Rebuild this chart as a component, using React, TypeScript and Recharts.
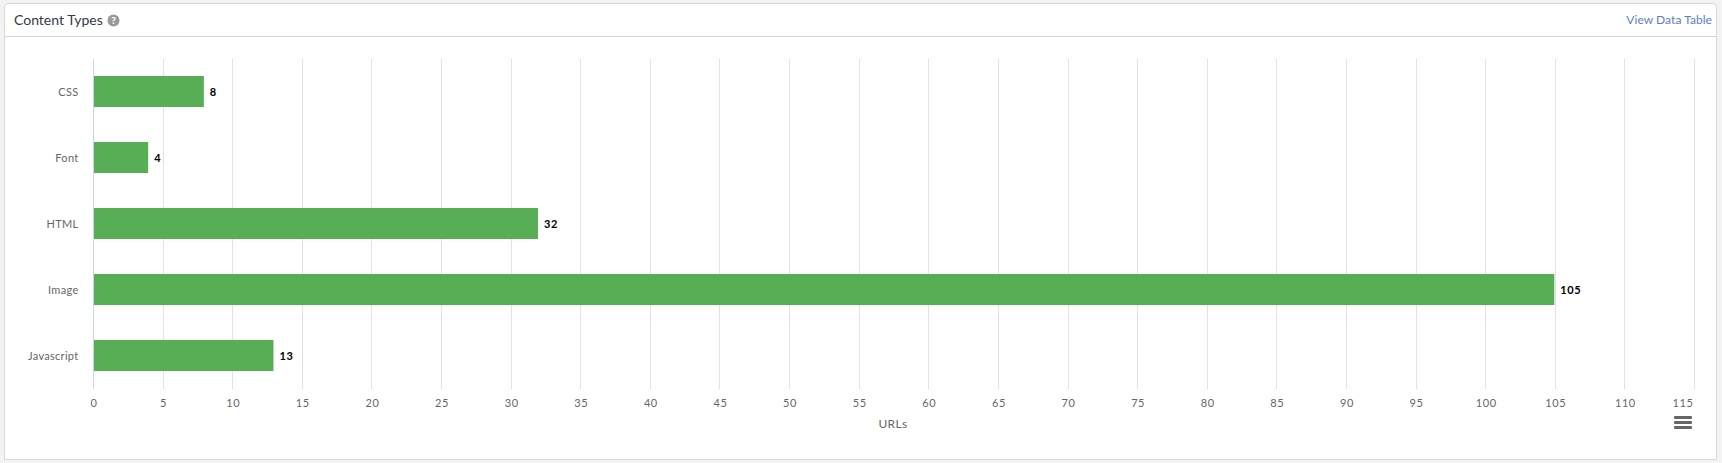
import { Bar, BarChart, CartesianGrid, LabelList, Rectangle, XAxis, YAxis } from "recharts";

const FONT = "Lato, sans-serif";

const categories = ["CSS", "Font", "HTML", "Image", "Javascript"];
const urlCounts = [8, 4, 32, 105, 13];
const xTicks = [0, 5, 10, 15, 20, 25, 30, 35, 40, 45, 50, 55, 60, 65, 70, 75, 80, 85, 90, 95, 100, 105, 110, 115];

const chartData = categories.map((name, index) => ({ name, urls: urlCounts[index] }));

function XTick({ x, y, payload }: any) {
  // the last label is pulled back inside the plot, as in the original
  const isLast = payload.value === xTicks[xTicks.length - 1];
  return (
    <text
      x={isLast ? x - 1 : x + 0.5}
      y={y}
      dy={4}
      textAnchor={isLast ? "end" : "middle"}
      fontFamily={FONT}
      fontSize={11}
      letterSpacing={0.6}
      fill="#666666"
    >
      {payload.value}
    </text>
  );
}

// bars stop a pixel short of the gridlines in the original
function TrimmedBar(props: any) {
  return <Rectangle {...props} width={props.width - 1} />;
}

export default function App() {
  return (
    <div style={{ position: "absolute", left: 0, top: 0, width: 1722, height: 463, background: "#f3f3f3", overflow: "hidden", fontFamily: FONT }}>
      <div
        style={{
          position: "absolute",
          left: 4,
          top: 3,
          width: 1711,
          height: 455,
          background: "#fff",
          border: "1px solid #d8d8d8",
          borderRadius: "4px 4px 0 0",
        }}
      />
      <div style={{ position: "absolute", left: 5, top: 36, width: 1711, height: 1, background: "#d4d4d4" }} />
      <div style={{ position: "absolute", left: 14, top: 11, fontSize: 14, lineHeight: "18px", color: "#333a45" }}>Content Types</div>
      <svg style={{ position: "absolute", left: 107, top: 14 }} width={13} height={13}>
        <circle cx={6.5} cy={6.5} r={6} fill="#999999" />
        <text x={6.5} y={10} textAnchor="middle" fontFamily={FONT} fontWeight={900} fontSize={10} fill="#fff">?</text>
      </svg>
      <div style={{ position: "absolute", right: 10, top: 11, fontSize: 12, lineHeight: "18px", letterSpacing: 0.05, color: "#5b80c0" }}>View Data Table</div>

      <div style={{ position: "absolute", left: 0, top: 0 }}>
        <BarChart
          width={1722}
          height={463}
          data={chartData}
          layout="vertical"
          margin={{ top: 58.5, right: 27.5, bottom: 34.5, left: 13.5 }}
          barCategoryGap={17.5}
        >
          <CartesianGrid horizontal={false} stroke="#e2e2e2" shapeRendering="crispEdges" />
          <XAxis
            type="number"
            domain={[0, 115]}
            ticks={xTicks}
            interval={0}
            axisLine={false}
            tickLine={false}
            tickMargin={8}
            height={40}
            tick={<XTick />}
          />
          <YAxis
            type="category"
            dataKey="name"
            width={80}
            axisLine={{ stroke: "#ccd6eb", shapeRendering: "crispEdges" }}
            tickLine={false}
            tickMargin={9}
            tick={{ fontFamily: FONT, fontSize: 11, fill: "#666666", letterSpacing: 0.3, dy: 1 }}
          />
          <Bar dataKey="urls" fill="#57ae55" isAnimationActive={false} shape={<TrimmedBar />}>
            <LabelList
              dataKey="urls"
              position="right"
              offset={5}
              dy={1}
              style={{ fontFamily: FONT, fontSize: 11, fontWeight: 700, fill: "#000000", letterSpacing: 0.6 }}
            />
          </Bar>
        </BarChart>
      </div>

      <div style={{ position: "absolute", left: 863, top: 417, width: 60, textAlign: "center", fontSize: 12, lineHeight: "14px", letterSpacing: 0.4, color: "#666666" }}>URLs</div>
      {[416, 421, 426].map((top) => (
        <div key={top} style={{ position: "absolute", left: 1674, top, width: 18, height: 3, borderRadius: 1, background: "#666666" }} />
      ))}
    </div>
  );
}
